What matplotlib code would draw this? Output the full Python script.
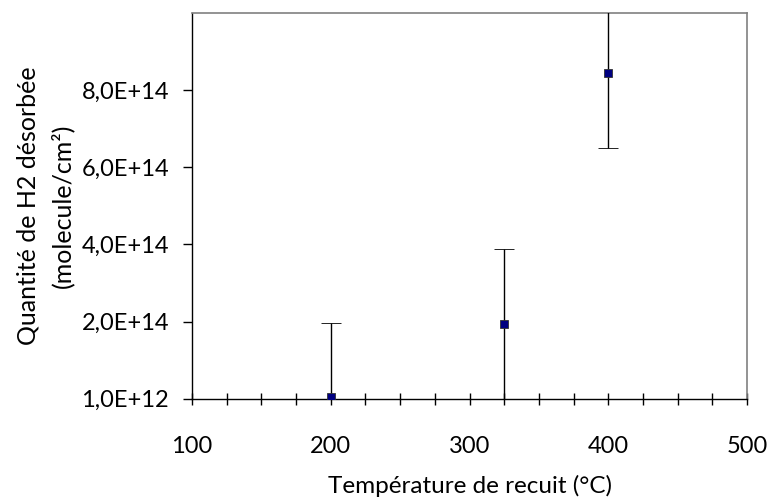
import matplotlib
matplotlib.use("Agg")
import matplotlib.pyplot as plt
from matplotlib.ticker import MultipleLocator, FuncFormatter

# annealing temperature (C) vs desorbed H2 amount (molecule/cm2)
temperature = [200, 325, 400]
h2_amount = [5e12, 1.94e14, 8.46e14]
h2_error = [1.92e14, 1.94e14, 1.96e14]

y_ticks = [1e12, 2.01e14, 4.01e14, 6.01e14, 8.01e14]

plt.rcParams['font.family'] = ['Lato', 'DejaVu Sans']

fig = plt.figure(figsize=(7.72, 4.99), dpi=100)
ax = fig.add_axes([0.2487, 0.201, 0.719, 0.773])

ax.errorbar(temperature, h2_amount, yerr=h2_error, fmt='s', color='black',
            ecolor='black', elinewidth=1, capsize=7, capthick=1,
            markersize=6, markerfacecolor='#000080', markeredgecolor='#333333',
            markeredgewidth=0.6, zorder=3)

ax.set_xlim(100, 500)
ax.set_ylim(1e12, 1.001e15)
ax.xaxis.set_major_locator(MultipleLocator(100))
ax.xaxis.set_minor_locator(MultipleLocator(25))
ax.set_yticks(y_ticks)
ax.yaxis.set_major_formatter(FuncFormatter(lambda v, p: ('%.1E' % v).replace('.', ',')))

ax.tick_params(axis='x', which='both', direction='inout', length=8, width=1,
               labelsize=17, pad=23)
ax.tick_params(axis='y', direction='out', length=6.5, width=1, labelsize=17, pad=10)

for s in ['top', 'right']:
    ax.spines[s].set_color('#808080')
    ax.spines[s].set_linewidth(1.2)
for s in ['left', 'bottom']:
    ax.spines[s].set_color('black')
    ax.spines[s].set_linewidth(1)

ax.set_xlabel(u'Température de recuit (°C)', fontsize=17.5, labelpad=13)
ax.set_ylabel(u'Quantité de H2 désorbée\n(molecule/cm²)', fontsize=18,
              labelpad=5, linespacing=1.55)

fig.savefig('out.png', dpi=100)
